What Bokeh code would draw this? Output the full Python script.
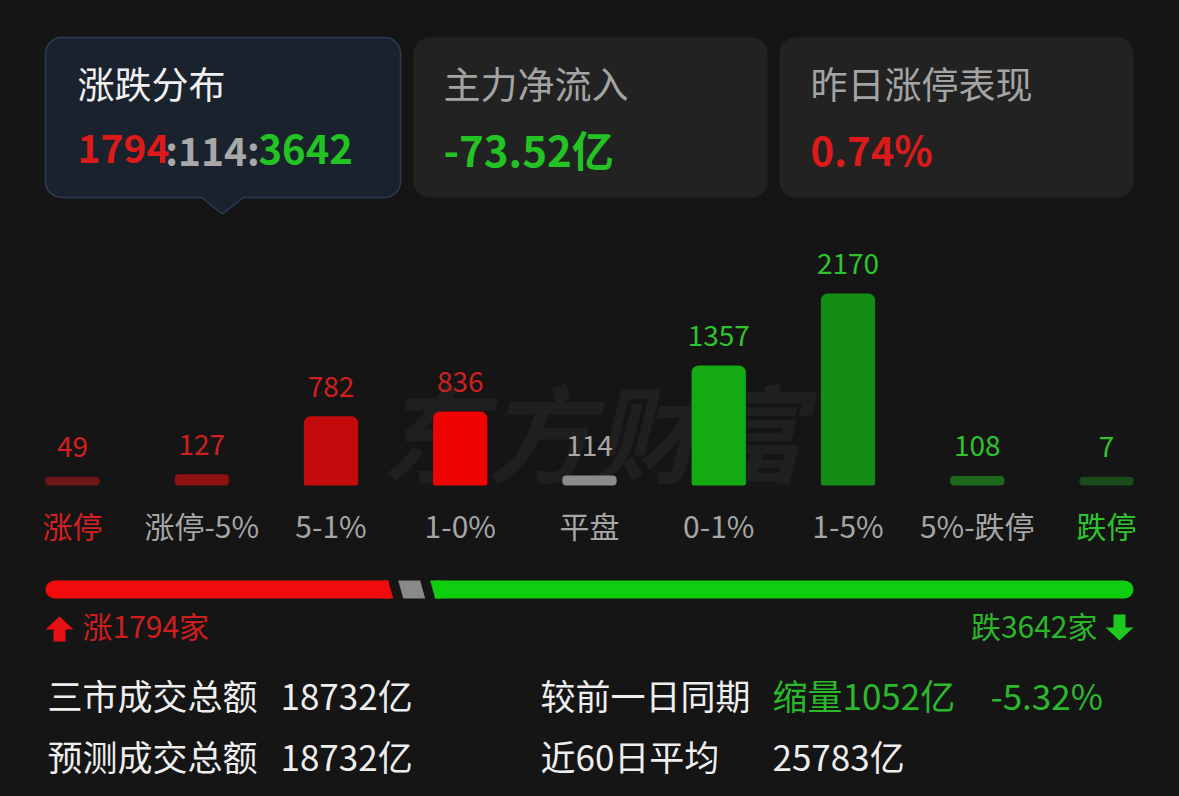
from bokeh.plotting import figure
from bokeh.models import Range1d, ColumnDataSource
from bokeh.core.properties import value
from bokeh.embed import file_html
from bokeh.resources import INLINE

# ---------------- data ----------------
card_titles = ["涨跌分布", "主力净流入", "昨日涨停表现"]
rise_count = 1794
flat_count = 114
fall_count = 3642
net_inflow_text = "-73.52亿"
yday_perf_text = "0.74%"

categories = ["涨停", "涨停-5%", "5-1%", "1-0%", "平盘", "0-1%", "1-5%", "5%-跌停", "跌停"]
counts = [49, 127, 782, 836, 114, 1357, 2170, 108, 7]
bar_colors = ["#6c1616", "#8e1212", "#c40b0b", "#f00303", "#8c8c8c",
              "#13aa13", "#158c15", "#1e681e", "#1b4a1b"]
value_colors = ["#cf2020", "#cf2020", "#cf2020", "#cf2020", "#a8a8a8",
                "#2ec42e", "#2ec42e", "#2ec42e", "#2ec42e"]
label_colors = ["#d42020", "#a6a6a6", "#a6a6a6", "#a6a6a6", "#a6a6a6",
                "#a6a6a6", "#a6a6a6", "#a6a6a6", "#2ec42e"]

share_names = ["涨", "平", "跌"]
share_counts = [rise_count, flat_count, fall_count]
share_colors = ["#f00c0c", "#8a8a8a", "#0fce0f"]

turnover_labels = ["三市成交总额", "预测成交总额"]
turnover_values = ["18732亿", "18732亿"]
compare_labels = ["较前一日同期", "近60日平均"]
compare_values = ["缩量1052亿", "25783亿"]
compare_pct = "-5.32%"

# ---------------- styling ----------------
BG = "#151515"
FONT = value("Noto Sans CJK SC")
RED = "#dc1a1a"
GREEN = "#22c322"
GRAY = "#a8a8a8"
WHITE = "#eeeeee"

W, H = 1179, 796

p = figure(width=W, height=H, x_range=Range1d(0, W), y_range=Range1d(H, 0),
           output_backend="svg", toolbar_location=None, min_border=0,
           x_axis_location=None, y_axis_location=None,
           background_fill_color=BG, border_fill_color=BG, outline_line_color=None)
p.grid.visible = False

# ---------------- cards ----------------
CARD1_FILL = "#1a222d"
CARD1_LINE = "#2d3c54"
p.quad(left=[45], right=[400], top=[37], bottom=[197], fill_color=CARD1_FILL,
       line_color=CARD1_LINE, line_width=1.5, border_radius=16)
p.patch(x=[201, 222, 243], y=[195.5, 213.5, 195.5], fill_color=CARD1_FILL, line_color=None)
p.line(x=[201, 222, 243], y=[197, 213.5, 197], line_color=CARD1_LINE, line_width=1.5)
p.quad(left=[413, 779], right=[767, 1133], top=[37, 37], bottom=[197, 197],
       fill_color="#222222", line_color=None, border_radius=16)

title_x = [77, 443, 810]
title_col = ["#f0f0f0", "#a4a4a4", "#a4a4a4"]
p.text(x=title_x, y=[82] * 3, text=card_titles, text_color=title_col, text_font=FONT,
       text_font_size="37px", text_baseline="middle", text_align="left")

vb = 148
p.text(x=[77], y=[vb], text=[str(rise_count)], text_color=RED, text_font=FONT,
       text_font_size="39px", text_font_style="bold", text_baseline="middle", text_align="left")
p.text(x=[212], y=[vb], text=[":" + str(flat_count) + ":"], text_color=GRAY, text_font=FONT,
       text_font_size="39px", text_font_style="bold", text_baseline="middle", text_align="center")
p.text(x=[258], y=[vb], text=[str(fall_count)], text_color=GREEN, text_font=FONT,
       text_font_size="40px", text_font_style="bold", text_baseline="middle", text_align="left")
p.text(x=[443], y=[vb], text=[net_inflow_text], text_color=GREEN, text_font=FONT,
       text_font_size="42px", text_font_style="bold", text_baseline="middle", text_align="left")
p.text(x=[810], y=[vb], text=[yday_perf_text], text_color=RED, text_font=FONT,
       text_font_size="40px", text_font_style="bold", text_baseline="middle", text_align="left")

# ---------------- watermark ----------------
p.text(x=[592], y=[428], text=["东方财富"], text_color="#1f1f1f", text_font=FONT,
       text_font_size="106px", text_font_style="bold italic", text_baseline="middle",
       text_align="center")

# ---------------- bar chart (category index x, count y) ----------------
BASE_Y = 485          # page pixel of the zero line
PPU = 0.0885          # pixels per stock
n = len(categories)
idx = list(range(n))
SLOT = 129.25
p.extra_x_ranges = {"idx": Range1d(-(72 / SLOT), -(72 / SLOT) + W / SLOT)}
p.extra_y_ranges = {"cnt": Range1d(start=-(H - BASE_Y) / PPU, end=BASE_Y / PPU)}

MIN_VIS = 100
disp = [max(c, MIN_VIS) for c in counts]
big = [i for i, c in enumerate(counts) if c >= 2 * MIN_VIS]
small = [i for i, c in enumerate(counts) if c < 2 * MIN_VIS]

src_big = ColumnDataSource(dict(x=[idx[i] for i in big], top=[disp[i] for i in big],
                                color=[bar_colors[i] for i in big]))
src_small = ColumnDataSource(dict(x=[idx[i] for i in small], top=[disp[i] for i in small],
                                  color=[bar_colors[i] for i in small]))
p.vbar(x="x", top="top", bottom=0, width=0.42, fill_color="color", line_color=None,
       source=src_big, x_range_name="idx", y_range_name="cnt", border_radius=(7, 7, 2, 2))
p.vbar(x="x", top="top", bottom=0, width=0.42, fill_color="color", line_color=None,
       source=src_small, x_range_name="idx", y_range_name="cnt", border_radius=4)

src_lab = ColumnDataSource(dict(x=idx, cat=categories, top=disp, txt=[str(c) for c in counts],
                                vcol=value_colors, lcol=label_colors))
p.text(x="x", y="top", text="txt", text_color="vcol", source=src_lab, x_range_name="idx",
       y_range_name="cnt", text_font=FONT, text_font_size="28px", text_align="center",
       text_baseline="middle", y_offset=-30)
p.text(x="x", y=524, text="cat", text_color="lcol", source=src_lab, x_range_name="idx",
       text_font=FONT, text_font_size="30px", text_align="center", text_baseline="middle")

# ---------------- share bar ----------------
BAR_L, BAR_R = 45, 1133
GAP_PX, SLANT_PX = 10, 2.5
tot_cnt = sum(share_counts)
ppu2 = (BAR_R - BAR_L - 2 * GAP_PX) / tot_cnt
gap = GAP_PX / ppu2
d = SLANT_PX / ppu2
p.extra_x_ranges["share"] = Range1d(start=-BAR_L / ppu2,
                                    end=tot_cnt + 2 * gap + (W - BAR_R) / ppu2)
b0, b1 = 580, 598
r_end = share_counts[0]
g0 = r_end + gap
g1 = g0 + share_counts[1]
gr0 = g1 + gap
gr1 = gr0 + share_counts[2]
eps = 6 / ppu2
# red
p.quad(left=[0], right=[r_end - d], top=[b0], bottom=[b1], fill_color=share_colors[0],
       line_color=None, x_range_name="share", border_radius=(9, 0, 0, 9))
p.patch(x=[r_end - d - eps, r_end - d, r_end + d, r_end - d - eps], y=[b0, b0, b1, b1],
        fill_color=share_colors[0], line_color=None, x_range_name="share")
# flat
p.patch(x=[g0 - d, g1 - d, g1 + d, g0 + d], y=[b0, b0, b1, b1],
        fill_color=share_colors[1], line_color=None, x_range_name="share")
# green
p.quad(left=[gr0 + d], right=[gr1], top=[b0], bottom=[b1], fill_color=share_colors[2],
       line_color=None, x_range_name="share", border_radius=(0, 9, 9, 0))
p.patch(x=[gr0 - d, gr0 + d + eps, gr0 + d + eps, gr0 + d], y=[b0, b0, b1, b1],
        fill_color=share_colors[2], line_color=None, x_range_name="share")

# arrows + labels
p.patch(x=[53, 53, 45, 59, 73, 65, 65], y=[641, 629, 629, 616, 629, 629, 641],
        fill_color="#e81010", line_color=None)
p.patch(x=[1113, 1113, 1105, 1119, 1133, 1125, 1125], y=[614, 627, 627, 640, 627, 627, 614],
        fill_color="#1ec81e", line_color=None)
p.text(x=[82], y=[624], text=[share_names[0] + str(rise_count) + "家"], text_color="#d01e1e",
       text_font=FONT, text_font_size="30px", text_baseline="middle", text_align="left")
p.text(x=[1097], y=[624], text=[share_names[2] + str(fall_count) + "家"], text_color="#2ab82a",
       text_font=FONT, text_font_size="30px", text_baseline="middle", text_align="right")

# ---------------- bottom stats ----------------
rows_y = [694, 755]
FS = "35px"
p.text(x=[47, 47], y=rows_y, text=turnover_labels, text_color=WHITE, text_font=FONT,
       text_font_size=FS, text_baseline="middle", text_align="left")
p.text(x=[280, 280], y=rows_y, text=turnover_values, text_color=WHITE, text_font=FONT,
       text_font_size=FS, text_baseline="middle", text_align="left")
p.text(x=[540, 540], y=rows_y, text=compare_labels, text_color=WHITE, text_font=FONT,
       text_font_size=FS, text_baseline="middle", text_align="left")
p.text(x=[772, 772], y=rows_y, text=compare_values, text_color=["#2bb82b", WHITE], text_font=FONT,
       text_font_size=FS, text_baseline="middle", text_align="left")
p.text(x=[990], y=[rows_y[0]], text=[compare_pct], text_color="#2bb82b", text_font=FONT,
       text_font_size=FS, text_baseline="middle", text_align="left")

html = file_html(p, INLINE, title="涨跌分布")
html = html.replace("</head>", "<style>html,body{background:%s;}</style></head>" % BG, 1)
with open("out.html", "w", encoding="utf-8") as f:
    f.write(html)
